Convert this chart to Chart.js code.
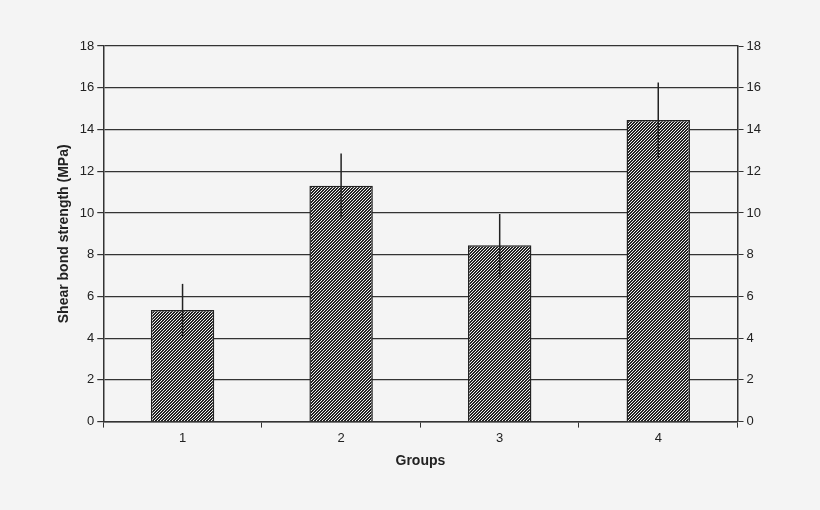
<!DOCTYPE html>
<html><head><script src="https://cdn.jsdelivr.net/npm/chart.js@4"></script>
<style>body{margin:0;background:#f4f4f4}#w{width:820px;height:510px}</style></head>
<body><div id="w"><canvas id="c"></canvas></div>
<script>
const categories=["1","2","3","4"];
const values=[5.35,11.3,8.45,14.45];
const errors=[1.25,1.55,1.5,1.8];
const pc=document.createElement('canvas');pc.width=3;pc.height=3;
const p=pc.getContext('2d');p.fillStyle='#f0f0f0';p.fillRect(0,0,3,3);
p.fillStyle='#222';for(let i=0;i<3;i++){p.fillRect(i,2-i,1,1);p.fillRect((i+1)%3,2-i,1,1);}
const pattern=document.getElementById('c').getContext('2d').createPattern(pc,'repeat');
const errPlugin={id:'err',afterDatasetsDraw(ch){const ctx=ch.ctx,y=ch.scales.y;const m=ch.getDatasetMeta(0);
ctx.save();ctx.strokeStyle='#222';ctx.lineWidth=1.5;
m.data.forEach((b,i)=>{ctx.beginPath();ctx.moveTo(b.x,y.getPixelForValue(values[i]+errors[i]));ctx.lineTo(b.x,y.getPixelForValue(values[i]-errors[i]));ctx.stroke();});ctx.restore();}};
const font={family:'Liberation Sans, Arial',size:13};
new Chart('c',{type:'bar',data:{labels:categories,datasets:[{data:values,backgroundColor:pattern,borderColor:'#222',borderWidth:1.5,barPercentage:0.4,categoryPercentage:1}]},
options:{responsive:true,maintainAspectRatio:false,animation:false,layout:{padding:{left:52,right:56,top:46,bottom:36}},
plugins:{legend:{display:false},tooltip:{enabled:false}},
scales:{x:{grid:{offset:true,drawOnChartArea:false,color:'#333',tickLength:6},border:{color:'#333',width:1.5},ticks:{color:'#222',font},title:{display:true,text:'Groups',color:'#222',font:{...font,weight:'bold',size:14}}},
y:{min:0,max:18,ticks:{stepSize:2,color:'#222',font},grid:{color:'#333',lineWidth:1.2,tickLength:6},border:{color:'#333',width:1.5},title:{display:true,text:'Shear bond strength (MPa)',color:'#222',font:{...font,weight:'bold',size:14}}},
y2:{position:'right',min:0,max:18,ticks:{stepSize:2,color:'#222',font},grid:{drawOnChartArea:false,color:'#333',tickLength:6},border:{color:'#333',width:1.5}}}},
plugins:[errPlugin]});
</script></body></html>
